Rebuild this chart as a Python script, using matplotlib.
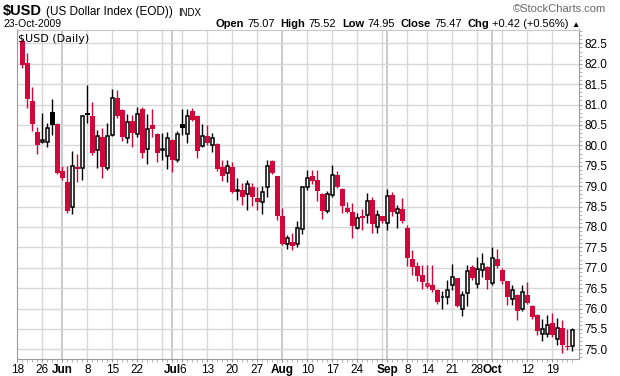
import numpy as np
import pandas as pd
import matplotlib
matplotlib.use("Agg")
import matplotlib.pyplot as plt

# daily OHLC of $USD, 18-May-2009 .. 23-Oct-2009
opens = [83.10, 82.55, 82.02, 81.09, 80.32, 80.07, 80.07, 80.81, 80.52, 79.36,
         79.11, 78.50, 79.47, 79.44, 80.80, 80.73, 79.89, 80.20, 79.44, 80.26,
         81.17, 80.87, 80.18, 80.59, 80.27, 80.88, 79.90, 80.50, 80.27, 79.88,
         79.74, 80.13, 79.65, 80.52, 80.29, 80.84, 80.72, 79.98, 80.24, 80.00,
         80.03, 79.46, 79.31, 79.46, 78.89, 78.90, 78.80, 78.97, 78.72, 78.61,
         78.98, 79.61, 79.24, 78.26, 77.57, 77.62, 77.59, 77.96, 78.97, 79.24,
         79.16, 78.80, 78.39, 78.79, 79.28, 78.92, 78.47, 78.37, 77.98, 78.26,
         78.30, 78.67, 78.00, 78.26, 78.10, 78.78, 78.34, 78.43, 77.98, 77.22,
         77.04, 76.82, 76.56, 76.58, 76.46, 76.27, 76.27, 76.57, 76.75, 75.98,
         76.39, 77.02, 76.61, 76.94, 77.02, 76.63, 77.22, 76.94, 76.67, 76.23,
         76.34, 75.98, 76.34, 76.06, 75.85, 75.38, 75.38, 75.65, 75.26, 75.52,
         75.09, 75.07]
highs = [83.20, 82.60, 82.26, 81.42, 80.46, 80.79, 80.54, 81.14, 80.55, 79.50,
         79.50, 79.85, 79.80, 80.75, 81.47, 81.06, 80.38, 80.42, 80.54, 81.38,
         81.36, 80.90, 80.76, 80.74, 80.93, 80.93, 80.77, 80.90, 80.30, 80.30,
         80.33, 80.15, 80.36, 80.88, 80.88, 80.92, 80.75, 80.52, 80.50, 80.30,
         80.05, 79.64, 79.65, 79.60, 79.20, 79.08, 79.16, 79.08, 78.97, 79.00,
         79.65, 79.63, 79.26, 78.47, 77.80, 77.84, 78.15, 78.97, 79.39, 79.39,
         79.39, 78.82, 78.88, 79.51, 79.36, 78.95, 78.61, 78.58, 78.33, 78.45,
         78.83, 78.74, 78.41, 78.28, 78.94, 78.86, 78.53, 78.70, 78.04, 77.44,
         77.14, 77.06, 77.06, 77.06, 76.48, 76.44, 76.71, 77.10, 76.76, 76.42,
         77.06, 77.06, 77.26, 77.35, 77.04, 77.51, 77.47, 77.00, 76.68, 76.57,
         76.36, 76.57, 76.65, 76.08, 75.87, 75.75, 75.85, 75.90, 75.77, 75.73,
         75.49, 75.52]
lows = [82.78, 81.90, 80.91, 80.34, 79.78, 80.05, 79.97, 80.26, 79.30, 79.15,
        78.34, 78.32, 79.10, 79.15, 80.54, 79.77, 79.44, 79.20, 79.40, 80.22,
        80.67, 80.10, 80.05, 79.96, 80.20, 79.68, 79.54, 80.20, 79.60, 79.64,
        79.43, 79.35, 79.60, 80.25, 80.06, 80.60, 79.68, 79.95, 80.00, 79.84,
        79.38, 79.13, 79.10, 78.82, 78.65, 78.53, 78.41, 78.51, 78.41, 78.31,
        78.74, 79.30, 78.18, 77.55, 77.47, 77.43, 77.50, 77.82, 78.90, 79.06,
        78.63, 78.20, 78.35, 78.74, 78.95, 78.33, 78.33, 77.74, 77.94, 77.92,
        78.10, 77.84, 77.85, 78.10, 77.93, 78.26, 77.98, 78.10, 77.04, 76.82,
        76.68, 76.49, 76.51, 76.40, 76.12, 75.99, 76.12, 76.45, 76.04, 75.82,
        76.06, 76.70, 76.50, 76.77, 76.47, 76.58, 77.00, 76.60, 76.08, 76.09,
        75.73, 75.95, 76.10, 75.75, 75.34, 75.20, 75.30, 75.30, 75.11, 74.92,
        74.98, 74.95]
closes = [82.82, 81.98, 81.14, 80.52, 80.01, 80.13, 80.42, 80.49, 79.33, 79.19,
          78.38, 79.50, 79.43, 80.73, 80.75, 79.82, 80.24, 79.46, 80.24, 81.17,
          80.71, 80.20, 80.58, 80.31, 80.78, 79.82, 80.41, 80.40, 79.82, 79.89,
          80.17, 79.64, 80.27, 80.43, 80.72, 80.63, 79.87, 80.24, 80.05, 80.19,
          79.41, 79.24, 79.49, 78.86, 78.90, 78.74, 79.06, 78.74, 78.61, 78.86,
          79.50, 79.33, 78.26, 77.59, 77.74, 77.53, 77.98, 78.97, 79.21, 79.12,
          78.88, 78.39, 78.80, 79.28, 78.98, 78.51, 78.37, 78.02, 78.23, 78.21,
          78.63, 78.07, 78.30, 78.15, 78.75, 78.37, 78.43, 78.15, 77.25, 77.02,
          76.79, 76.65, 76.61, 76.46, 76.16, 76.28, 76.46, 76.77, 76.06, 76.32,
          76.91, 76.75, 76.98, 77.10, 76.69, 77.25, 77.04, 76.67, 76.28, 76.46,
          75.93, 76.41, 76.14, 75.79, 75.44, 75.49, 75.60, 75.36, 75.52, 75.10,
          75.05, 75.47]

holidays = ["2009-05-25", "2009-07-03", "2009-09-07"]
dates = pd.bdate_range("2009-05-18", "2009-10-23")
dates = dates[~dates.isin(pd.to_datetime(holidays))]

# x-axis labels (dates shown under the chart)
label_dates = ["2009-05-18", "2009-05-26", "2009-06-01", "2009-06-08", "2009-06-15",
               "2009-06-22", "2009-07-01", "2009-07-06", "2009-07-13", "2009-07-20",
               "2009-07-27", "2009-08-03", "2009-08-10", "2009-08-17", "2009-08-24",
               "2009-09-01", "2009-09-08", "2009-09-14", "2009-09-21", "2009-09-28",
               "2009-10-01", "2009-10-12", "2009-10-19"]
label_texts = ["18", "26", "Jun", "8", "15", "22", "Jul", "6", "13", "20", "27",
               "Aug", "10", "17", "24", "Sep", "8", "14", "21", "28", "Oct", "12", "19"]
y_ticks = [75.0, 75.5, 76.0, 76.5, 77.0, 77.5, 78.0, 78.5, 79.0, 79.5,
           80.0, 80.5, 81.0, 81.5, 82.0, 82.5]

RED = "#d1063a"
W, H = 620, 376
plt.rcParams["font.family"] = ["Liberation Sans", "DejaVu Sans"]

fig = plt.figure(figsize=(W / 100, H / 100), dpi=100, facecolor="white")
ax = fig.add_axes([16.7 / W, 1 - 359 / H, (579 - 16.7) / W, (359 - 29.5) / H])

x = np.arange(len(dates))
o = np.array(opens)
c = np.array(closes)
prev = np.r_[o[0] + 1, c[:-1]]
colors = [RED if c[i] < prev[i] else "black" for i in range(len(c))]
hollow = c > o

# grid: start of each week and month
week_start = pd.Series(dates.isocalendar().week.values).diff().fillna(1).ne(0).values
month_start = pd.Series(dates.month).diff().fillna(1).ne(0).values
for i in x:
    if month_start[i]:
        ax.axvline(i, color="#bcbcbc", lw=1.1, zorder=0)
    elif week_start[i]:
        ax.axvline(i, color="#d8d8d8", lw=1.0, zorder=0)
for v in y_ticks:
    ax.axhline(v, color="#d8d8d8", lw=1.0, zorder=0)

ax.vlines(x, lows, highs, colors=colors, lw=1.0, zorder=2)
for i in x:
    lo, hi = min(o[i], c[i]), max(o[i], c[i])
    h = max(hi - lo, 0.02)
    if hollow[i]:
        ax.bar(i, h, bottom=lo, width=0.72, facecolor="white",
               edgecolor=colors[i], linewidth=1.1, zorder=3)
    else:
        ax.bar(i, h, bottom=lo, width=0.92, color=colors[i], linewidth=0, zorder=3)

ax.set_xlim(-0.12, 112.34)
ax.set_ylim(74.762, 82.84)

pos = [dates.get_loc(pd.Timestamp(d)) for d in label_dates]
ax.set_xticks(pos)
ax.set_xticklabels(label_texts, fontsize=8.5)
for t in ax.get_xticklabels():
    if t.get_text().isalpha():
        t.set_fontweight("bold")
ax.set_xticks(x, minor=True)
ax.tick_params(axis="x", which="major", length=2, color="#999999", pad=1.5)
ax.tick_params(axis="x", which="minor", length=2, color="#aaaaaa")

ax.yaxis.tick_right()
ax.set_yticks(y_ticks)
ax.set_yticklabels([f"{v:.1f}" for v in y_ticks], fontsize=8.5)
ax.set_yticks(np.arange(74.8, 82.85, 0.1), minor=True)
ax.tick_params(axis="y", which="major", length=2, color="#999999", pad=2)
ax.tick_params(axis="y", which="minor", length=2, color="#aaaaaa")

for side in ["left", "right", "bottom"]:
    ax.spines[side].set_color("#9a9a9a")
ax.spines["top"].set_color("#c8c8c8")

ax.text(0.003, 0.985, "$USD (Daily)", transform=ax.transAxes, fontsize=8,
        family="DejaVu Sans", va="top", ha="left", zorder=5)

# header
def px(xp, yp):
    return xp / W, 1 - yp / H

renderer = fig.canvas.get_renderer()
xl = 3
for s, size, weight, gap in [("$USD", 10.5, "bold", 4), ("(US Dollar Index (EOD))", 8.5, "normal", 5),
                             ("INDX", 7, "normal", 0)]:
    t = fig.text(*px(xl, 15.5), s, fontsize=size, fontweight=weight, va="baseline")
    xl += t.get_window_extent(renderer).width + gap

fig.text(*px(606, 12), "\u00a9StockCharts.com", fontsize=8, color="#666666",
         ha="right", va="baseline")
fig.text(*px(3, 27), "23-Oct-2009", fontsize=7.5, va="baseline")

segments = [("Open", True, 3), ("75.07", False, 6), ("High", True, 3), ("75.52", False, 6),
            ("Low", True, 3), ("74.95", False, 6), ("Close", True, 3), ("75.47", False, 6),
            ("Chg", True, 3), ("+0.42 (+0.56%)", False, 3), ("\u25b2", False, 0)]
xr = 580
for s, bold, gap in reversed(segments):
    xr -= gap
    t = fig.text(*px(xr, 27), s, fontsize=6 if s == "\u25b2" else 8,
                 fontweight="bold" if bold else "normal", ha="right", va="baseline")
    xr -= t.get_window_extent(renderer).width

fig.savefig("out.png", dpi=100, facecolor="white")
